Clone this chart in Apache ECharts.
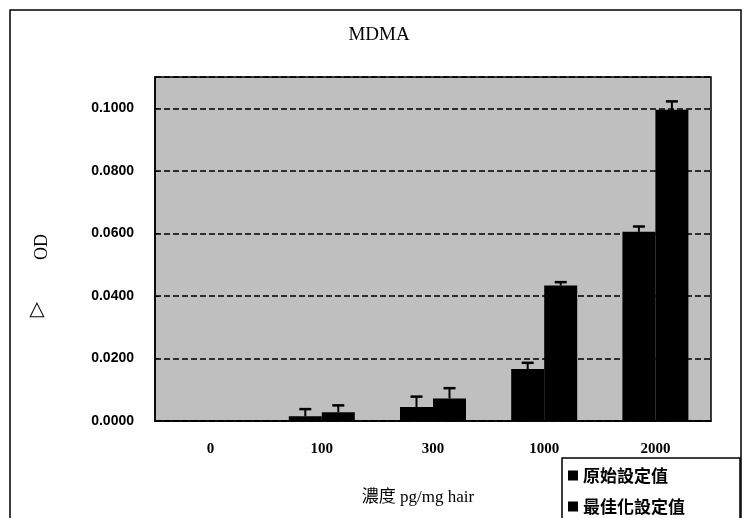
<!DOCTYPE html>
<html>
<head>
<meta charset="utf-8">
<script src="https://cdn.jsdelivr.net/npm/echarts@6/dist/echarts.min.js"></script>
<style>html,body{margin:0;padding:0;background:#fff}#c{width:749px;height:518px}</style>
</head>
<body>
<div id="c"></div>
<script>
var categories = ['0', '100', '300', '1000', '2000'];
var originalValues = [0, 0.0015, 0.0045, 0.0166, 0.0605];
var originalErrors = [0, 0.0023, 0.0033, 0.0020, 0.0017];
var optimizedValues = [0, 0.0028, 0.0072, 0.0433, 0.0995];
var optimizedErrors = [0, 0.0022, 0.0033, 0.0011, 0.0027];
var seriesNames = ['原始設定值', '最佳化設定值'];
var yTicks = [0, 0.02, 0.04, 0.06, 0.08, 0.1];

var BAR_W = 33;
function errData(vals, errs) {
  return vals.map(function (v, i) { return [i, v, v + errs[i]]; });
}
function errRender(offset) {
  return function (params, api) {
    var i = api.value(0);
    if (api.value(2) - api.value(1) <= 0) return null;
    var lo = api.coord([i, api.value(1)]);
    var hi = api.coord([i, api.value(2)]);
    var x = lo[0] + offset;
    return {
      type: 'group',
      children: [
        {type: 'line', shape: {x1: x, y1: lo[1], x2: x, y2: hi[1]}, style: {stroke: '#000', lineWidth: 2}},
        {type: 'line', shape: {x1: x - 6, y1: hi[1], x2: x + 6, y2: hi[1]}, style: {stroke: '#000', lineWidth: 2.5}}
      ]
    };
  };
}

var chart = echarts.init(document.getElementById('c'), null, {renderer: 'canvas'});
chart.setOption({
  animation: false,
  backgroundColor: '#fff',
  title: {
    text: 'MDMA', left: 374, top: 21, textAlign: 'center',
    textStyle: {fontFamily: 'Liberation Serif', fontWeight: 'normal', fontSize: 19, color: '#000'}
  },
  grid: {left: 155, right: 38, top: 77, bottom: 97, outerBoundsMode: 'none', show: true, backgroundColor: '#bfbfbf', borderColor: '#000', borderWidth: 1.5},
  legend: {
    orient: 'vertical', left: 562, top: 458, height: 120,
    itemWidth: 10, itemHeight: 10, itemGap: 14, icon: 'rect',
    padding: [9, 55, 8, 6],
    borderColor: '#000', borderWidth: 1.5, backgroundColor: '#fff',
    data: seriesNames,
    textStyle: {fontFamily: 'Noto Sans CJK TC', fontWeight: 'bold', fontSize: 17, color: '#000'}
  },
  xAxis: {
    type: 'category', data: categories,
    name: '濃度 pg/mg hair', nameLocation: 'middle', nameGap: 68,
    nameTextStyle: {fontFamily: 'Liberation Serif, Noto Sans CJK TC', fontSize: 17, color: '#000', padding: [0, 30, 0, 0]},
    axisLine: {lineStyle: {color: '#000', width: 1.5}},
    axisTick: {inside: true, length: 4, lineStyle: {color: '#000'}},
    axisLabel: {margin: 21, fontFamily: 'Liberation Serif', fontWeight: 'bold', fontSize: 15, color: '#000'},
    splitLine: {show: false}
  },
  yAxis: {
    type: 'value', min: 0, max: 0.11, interval: 0.02,
    axisLine: {show: true, lineStyle: {color: '#000', width: 1.5}},
    axisTick: {show: true, inside: true, length: 4, lineStyle: {color: '#000'}},
    axisLabel: {
      margin: 21, fontFamily: 'Liberation Sans', fontWeight: 'bold', fontSize: 14, color: '#000', showMaxLabel: false,
      formatter: function (v) { return yTicks.some(function (t) { return Math.abs(t - v) < 1e-9; }) ? v.toFixed(4) : ''; }
    },
    splitLine: {show: true, lineStyle: {color: '#000', type: [6, 3], width: 1.5}}
  },
  graphic: [
    {type: 'rect', shape: {x: 10, y: 10, width: 731, height: 540}, style: {fill: null, stroke: '#000', lineWidth: 1.5}, z: -1, silent: true},
    {type: 'text', x: 42, y: 247, rotation: Math.PI / 2, style: {text: 'OD', fontFamily: 'Liberation Serif', fontSize: 18, fill: '#000', textAlign: 'center', textVerticalAlign: 'middle'}},
    {type: 'text', x: 37, y: 310, style: {text: '△', fontFamily: 'DejaVu Sans', fontSize: 20, fill: '#000', textAlign: 'center', textVerticalAlign: 'middle'}}
  ],
  series: [
    {name: seriesNames[0], type: 'bar', data: originalValues, barWidth: BAR_W, barGap: '0%', itemStyle: {color: '#000'}},
    {name: seriesNames[1], type: 'bar', data: optimizedValues, barWidth: BAR_W, barGap: '0%', itemStyle: {color: '#000'}},
    {type: 'custom', data: errData(originalValues, originalErrors), renderItem: errRender(-BAR_W / 2), encode: {x: 0, y: [1, 2]}, z: 5},
    {type: 'custom', data: errData(optimizedValues, optimizedErrors), renderItem: errRender(BAR_W / 2), encode: {x: 0, y: [1, 2]}, z: 5}
  ]
});
</script>
</body>
</html>
